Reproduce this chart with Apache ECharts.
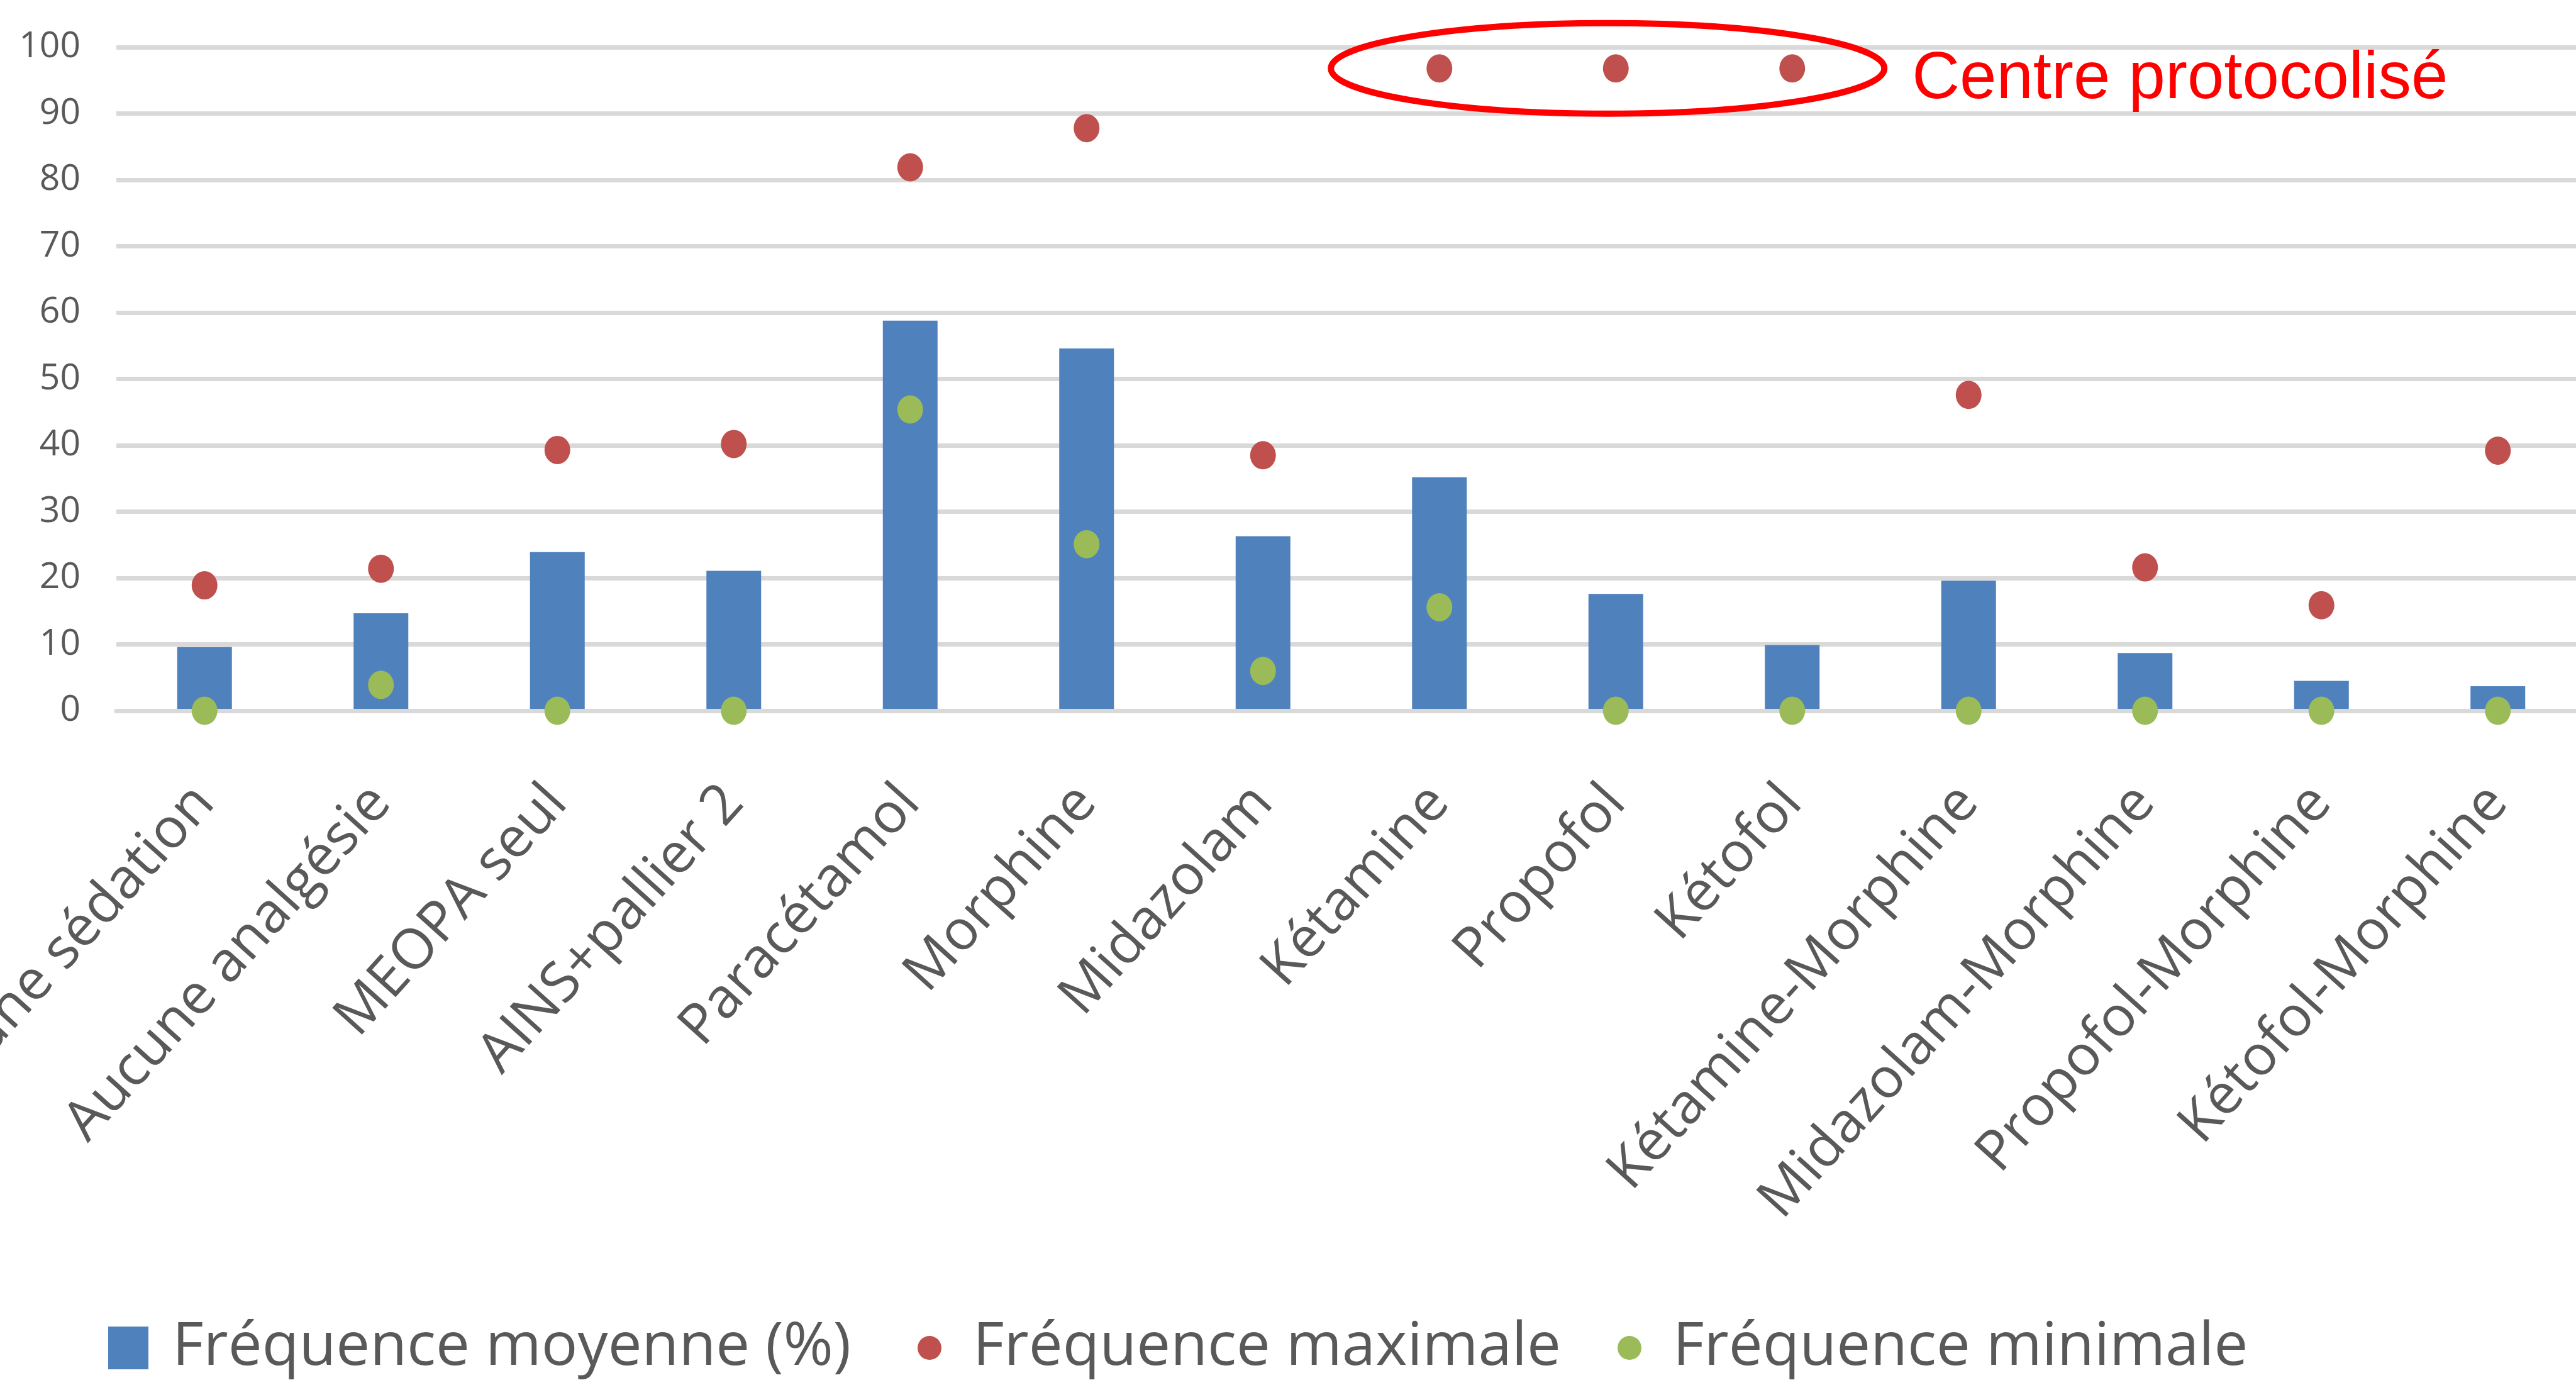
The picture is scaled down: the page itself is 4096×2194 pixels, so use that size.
<!DOCTYPE html>
<html>
<head>
<meta charset="utf-8">
<script src="https://cdn.jsdelivr.net/npm/echarts@6/dist/echarts.min.js"></script>
<style>
  html, body { margin: 0; padding: 0; background: #ffffff; }
  #chart { width: 4096px; height: 2194px; }
</style>
</head>
<body>
<div id="chart"></div>
<script>
// Sedation / analgesia protocols
const categories = [
  'Aucune sédation', 'Aucune analgésie', 'MEOPA seul', 'AINS+pallier 2',
  'Paracétamol', 'Morphine', 'Midazolam', 'Kétamine', 'Propofol', 'Kétofol',
  'Kétamine-Morphine', 'Midazolam-Morphine', 'Propofol-Morphine', 'Kétofol-Morphine'
];
// Mean frequency (%) per protocol
const meanFreq = [9.6, 14.7, 23.9, 21.1, 58.8, 54.6, 26.3, 35.2, 17.6, 9.9, 19.6, 8.7, 4.5, 3.7];
// Highest frequency observed among centres
const maxFreq = [18.9, 21.4, 39.3, 40.2, 81.9, 87.8, 38.5, 96.8, 96.8, 96.8, 47.6, 21.6, 15.9, 39.2];
// Lowest frequency observed among centres
const minFreq = [0, 3.9, 0, 0, 45.4, 25.1, 6.0, 15.6, 0, 0, 0, 0, 0, 0];

// Value axis ticks
const yMin = 0, yMax = 100, yStep = 10;

// Series names shown in the legend
const seriesNames = ['Fréquence moyenne (%)', 'Fréquence maximale', 'Fréquence minimale'];

// Protocols of the protocolised centre, circled at their maximum
const protocolCats = ['Kétamine', 'Propofol', 'Kétofol'];
const protocolLabel = 'Centre protocolisé';

const FONT = '"Open Sans", "Noto Sans", sans-serif';
const TEXT = '#595959';
const GRID = '#d9d9d9';
const BLUE = '#4f81bd', RED = '#c0504d', GREEN = '#9bbb59';
const ELLIPSE = 'path://M0,50 A50,50 0 1,1 100,50 A50,50 0 1,1 0,50 Z';

const chart = echarts.init(document.getElementById('chart'), null, { renderer: 'canvas' });

const legendBase = {
  top: 2095, padding: 0, selectedMode: false, orient: 'horizontal',
  textStyle: { fontFamily: FONT, fontSize: 96, color: TEXT }
};

chart.setOption({
  backgroundColor: '#ffffff',
  animation: false,
  grid: {
    left: 185, top: 75, width: 3927, height: 1055,
    containLabel: false, outerBoundsMode: 'none'
  },
  xAxis: {
    type: 'category',
    data: categories,
    z: 3,
    axisLine: { show: true, lineStyle: { color: GRID, width: 7 } },
    axisTick: { show: false },
    axisLabel: {
      interval: 0, rotate: 48, margin: 132,
      fontFamily: FONT, fontSize: 89, color: TEXT
    },
    splitLine: { show: false }
  },
  yAxis: {
    type: 'value',
    min: yMin, max: yMax, interval: yStep,
    axisLine: { show: false },
    axisTick: { show: false },
    axisLabel: { margin: 57, fontFamily: FONT, fontSize: 57, color: TEXT },
    splitLine: { show: true, lineStyle: { color: GRID, width: 7 } }
  },
  legend: [
    Object.assign({}, legendBase, {
      left: 172, itemWidth: 64, itemHeight: 68,
      data: [{ name: seriesNames[0], icon: 'rect' }],
      textStyle: Object.assign({}, legendBase.textStyle, { padding: [0, 0, 0, 33] })
    }),
    Object.assign({}, legendBase, {
      left: 1459, itemWidth: 38, itemHeight: 46,
      data: [{ name: seriesNames[1], icon: ELLIPSE }],
      textStyle: Object.assign({}, legendBase.textStyle, { padding: [0, 0, 0, 45] })
    }),
    Object.assign({}, legendBase, {
      left: 2572, itemWidth: 38, itemHeight: 46,
      data: [{ name: seriesNames[2], icon: ELLIPSE }],
      textStyle: Object.assign({}, legendBase.textStyle, { padding: [0, 0, 0, 45] })
    })
  ],
  series: [
    {
      name: seriesNames[0], type: 'bar', data: meanFreq,
      barWidth: 87, itemStyle: { color: BLUE }, z: 2
    },
    {
      name: seriesNames[1], type: 'scatter', data: maxFreq,
      symbol: ELLIPSE, symbolSize: [41, 45], itemStyle: { color: RED, opacity: 1 }, z: 4
    },
    {
      name: seriesNames[2], type: 'scatter', data: minFreq,
      symbol: ELLIPSE, symbolSize: [41, 45], itemStyle: { color: GREEN, opacity: 1 }, z: 4
    }
  ]
});

// Circle the maxima of the protocolised centre and label them
function drawProtocolNote() {
  const pts = protocolCats.map(c =>
    chart.convertToPixel({ xAxisIndex: 0, yAxisIndex: 0 }, [c, maxFreq[categories.indexOf(c)]]));
  const x0 = pts[0][0], x1 = pts[pts.length - 1][0];
  const cx = (x0 + x1) / 2 - 13;
  const cy = pts.reduce((s, p) => s + p[1], 0) / pts.length;
  const rx = 440, ry = 72;
  chart.setOption({
    graphic: [
      {
        type: 'ellipse', z: 10,
        shape: { cx: cx, cy: cy, rx: rx, ry: ry },
        style: { fill: null, stroke: '#ff0000', lineWidth: 10 }
      },
      {
        type: 'text', z: 10,
        x: cx + rx + 44, y: cy + 18,
        style: {
          text: protocolLabel, fill: '#ff0000',
          fontFamily: '"Liberation Sans", Arial, sans-serif', fontSize: 105,
          verticalAlign: 'middle', align: 'left'
        }
      }
    ]
  });
}
drawProtocolNote();
</script>
</body>
</html>
